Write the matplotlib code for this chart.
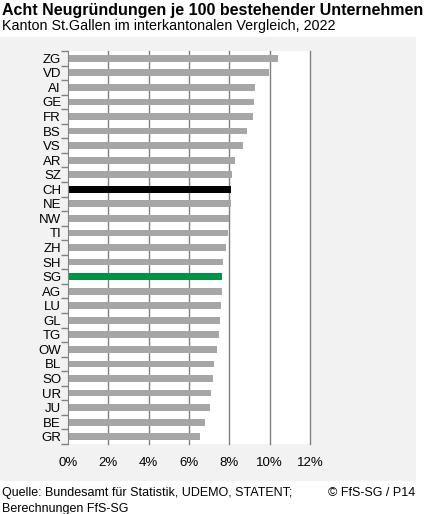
import matplotlib
matplotlib.use("Agg")
import matplotlib.pyplot as plt
from matplotlib.patches import Rectangle
from matplotlib.ticker import FuncFormatter

plt.rcParams['font.family'] = ['Liberation Sans', 'DejaVu Sans']

# Werte in Prozent (Neugründungen je 100 bestehender Unternehmen)
kantone = ['ZG', 'VD', 'AI', 'GE', 'FR', 'BS', 'VS', 'AR', 'SZ', 'CH', 'NE', 'NW', 'TI',
           'ZH', 'SH', 'SG', 'AG', 'LU', 'GL', 'TG', 'OW', 'BL', 'SO', 'UR', 'JU', 'BE', 'GR']
werte = [10.41, 9.97, 9.27, 9.22, 9.15, 8.87, 8.67, 8.28, 8.13, 8.08, 8.08, 8.00, 7.93,
         7.83, 7.68, 7.63, 7.63, 7.58, 7.53, 7.48, 7.38, 7.23, 7.18, 7.08, 7.03, 6.78, 6.53]
x_ticks = [0, 2, 4, 6, 8, 10, 12]

farbe_normal = '#A6A6A6'
farbe_ch = '#000000'
farbe_sg = '#009245'

farben = []
for k in kantone:
    if k == 'CH':
        farben.append(farbe_ch)
    elif k == 'SG':
        farben.append(farbe_sg)
    else:
        farben.append(farbe_normal)

W, H = 424, 514
fig = plt.figure(figsize=(W / 100, H / 100), dpi=100)

# grauer Hintergrund hinter dem Diagramm
fig.patches.append(Rectangle((0, 1 - 481 / H), 416 / W, (481 - 37) / H,
                             transform=fig.transFigure, facecolor='#F2F2F2',
                             edgecolor='none', zorder=-5))

ax = fig.add_axes([68 / W, 1 - 444 / H, (310 - 68) / W, 393 / H])
ax.set_facecolor('white')

y = list(range(len(kantone)))
ax.barh(y, werte, height=0.47, color=farben, zorder=3)

# vertikale Gitterlinien
for xt in x_ticks[1:]:
    ax.axvline(xt, color='#808080', linewidth=1, zorder=1, clip_on=False)

ax.set_xlim(0, 12)
ax.set_ylim(len(kantone) - 0.5, -0.5)
ax.set_xticks(x_ticks)
ax.xaxis.set_major_formatter(FuncFormatter(lambda v, p: f"{v:.0f}%"))

ax.set_yticks(y)
ax.set_yticklabels(kantone)
ax.set_yticks([i - 0.5 for i in range(len(kantone) + 1)], minor=True)
ax.tick_params(axis='y', which='major', length=0, pad=5, labelsize=9.5)
ax.tick_params(axis='y', which='minor', length=5, color='#808080', width=1)
ax.tick_params(axis='x', length=0, pad=9, labelsize=9.5)

for s in ['top', 'right', 'bottom']:
    ax.spines[s].set_visible(False)
ax.spines['left'].set_color('#808080')
ax.spines['left'].set_zorder(4)

fig.text(2 / W, 1 - 10 / H, 'Acht Neugründungen je 100 bestehender Unternehmen',
         fontsize=11.5, fontweight='bold', va='center', ha='left')
fig.text(2 / W, 1 - 26 / H, 'Kanton St.Gallen im interkantonalen Vergleich, 2022',
         fontsize=10.3, va='center', ha='left')
fig.text(2 / W, 1 - 493 / H, 'Quelle: Bundesamt für Statistik, UDEMO, STATENT;',
         fontsize=9, va='center', ha='left')
fig.text(2 / W, 1 - 509 / H, 'Berechnungen FfS-SG',
         fontsize=9, va='center', ha='left')
fig.text(415 / W, 1 - 493 / H, '© FfS-SG / P14',
         fontsize=9, va='center', ha='right')

fig.savefig('out.png', dpi=100)
